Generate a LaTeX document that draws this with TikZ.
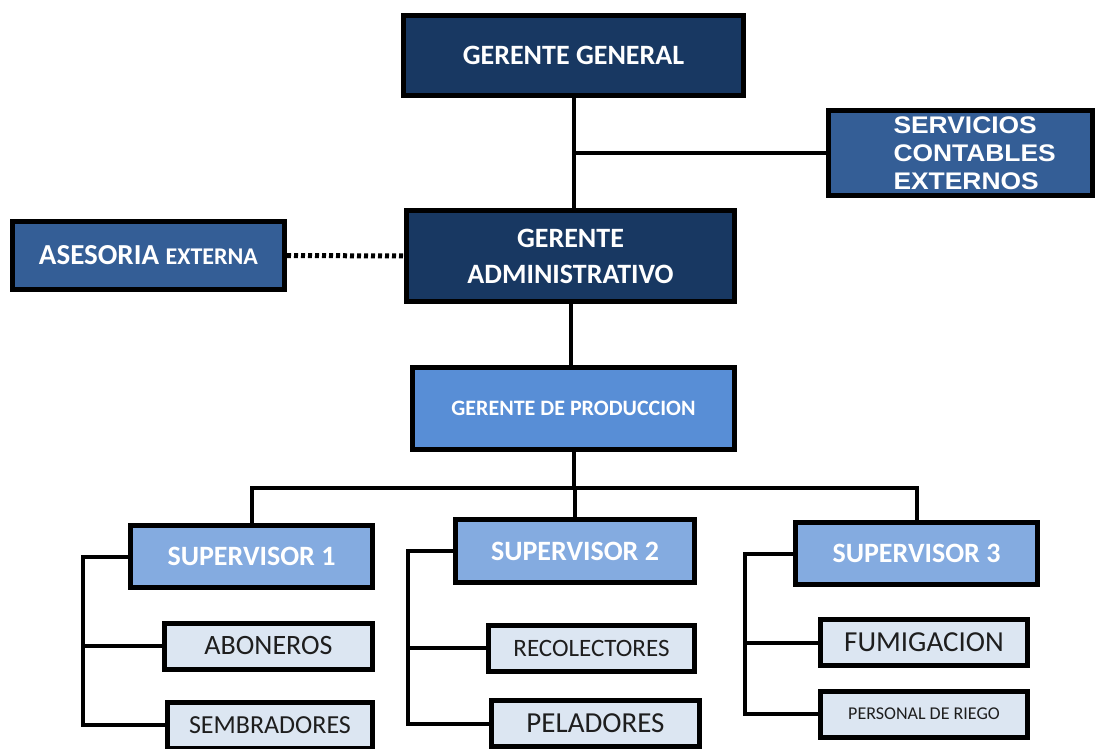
\documentclass[tikz,border=0pt]{standalone}
\usepackage{fontspec}
\setmainfont{Carlito}
\newfontfamily\arialx[FakeStretch=1.1]{Liberation Sans}
\definecolor{navy}{RGB}{24,56,98}
\definecolor{midblue}{RGB}{52,94,150}
\definecolor{prodblue}{RGB}{88,142,214}
\definecolor{supblue}{RGB}{132,171,224}
\definecolor{paleblue}{RGB}{220,230,242}
\definecolor{darktext}{RGB}{30,30,30}
\tikzset{
  boxbase/.style={draw=black, line width=5pt, rectangle, inner sep=2pt, align=center},
  topbox/.style={boxbase, fill=navy, text=white, font=\bfseries\fontsize{28}{36}\selectfont},
  sidebox/.style={boxbase, fill=midblue, text=white},
  prodbox/.style={boxbase, fill=prodblue, text=white, font=\bfseries\fontsize{22}{26}\selectfont},
  supbox/.style={boxbase, fill=supblue, text=white, font=\bfseries\fontsize{28}{32}\selectfont},
  workbox/.style={boxbase, fill=paleblue, text=darktext, minimum width=204pt, minimum height=46pt},
  conn/.style={draw=black, line width=4pt},
  dotconn/.style={draw=black, line width=5pt, dash pattern=on 4pt off 3pt}
}
\begin{document}
\begin{tikzpicture}[x=1pt,y=-1pt]
\useasboundingbox (0,0) rectangle (1096,749);
% top level
\node[topbox, minimum width=340pt, minimum height=80pt] (gg) at (573.5,55.5) {GERENTE GENERAL};
\node[sidebox, minimum width=264pt, minimum height=85pt, text width=250pt, align=left,
      font=\arialx\bfseries\fontsize{24}{28}\selectfont] (sc) at (960.5,153)
      {\hspace*{58pt}SERVICIOS\\\hspace*{58pt}CONTABLES\\\hspace*{58pt}EXTERNOS};
\node[topbox, minimum width=328pt, minimum height=91pt] (ga) at (570.5,256) {GERENTE\\ADMINISTRATIVO};
\node[sidebox, minimum width=272pt, minimum height=68pt] (ae) at (148.5,255.5)
      {{\bfseries\fontsize{29}{34}\selectfont ASESORIA }{\bfseries\fontsize{24}{34}\selectfont EXTERNA}};
\node[prodbox, minimum width=322pt, minimum height=82pt] (gp) at (573.5,408.5) {GERENTE DE PRODUCCION};
% supervisors
\node[supbox, minimum width=242pt, minimum height=62pt] (s1) at (251.5,556.5) {SUPERVISOR 1};
\node[supbox, minimum width=239pt, minimum height=63pt] (s2) at (575,551) {SUPERVISOR 2};
\node[supbox, minimum width=242pt, minimum height=62pt] (s3) at (916.5,553.5) {SUPERVISOR 3};
% workers
\node[workbox, minimum width=208pt, font=\fontsize{28}{32}\selectfont] (abo) at (268.5,646) {ABONEROS};
\node[workbox, minimum width=205pt, font=\fontsize{26}{30}\selectfont] (sem) at (270,725) {SEMBRADORES};
\node[workbox, minimum width=206pt, font=\fontsize{25}{30}\selectfont] (rec) at (591.5,648) {RECOLECTORES};
\node[workbox, minimum width=208pt, font=\fontsize{29}{32}\selectfont] (pel) at (595.5,723.5) {PELADORES};
\node[workbox, minimum width=207pt, font=\fontsize{29}{32}\selectfont] (fum) at (924,642.5) {FUMIGACION};
\node[workbox, minimum width=207pt, font=\fontsize{18}{22}\selectfont] (rie) at (924,714) {PERSONAL DE RIEGO};
% connectors
\coordinate (j) at (573.5,488);
\coordinate (l1) at (83,0);
\coordinate (l2) at (408,0);
\coordinate (l3) at (745,0);
\draw[conn] (gg.south) -- (gg.south |- ga.north);
\draw[conn] (gg.south |- sc.west) -- (sc.west);
\draw[dotconn] (ae.east) -- (ga.west);
\draw[conn] (ga.south) -- (ga.south |- gp.north);
\draw[conn] (gp.south) -- (j);
\draw[conn] (s1.north) -- (s1.north |- j) -- (s3.north |- j) -- (s3.north);
\draw[conn] (s2.north |- j) -- (s2.north);
\draw[conn] (s1.west) -- (s1.west -| l1) |- (sem.west);
\draw[conn] (abo.west) -- (abo.west -| l1);
\draw[conn] (s2.west) -- (s2.west -| l2) |- (pel.west);
\draw[conn] (rec.west) -- (rec.west -| l2);
\draw[conn] (s3.west) -- (s3.west -| l3) |- (rie.west);
\draw[conn] (fum.west) -- (fum.west -| l3);
\end{tikzpicture}
\end{document}
